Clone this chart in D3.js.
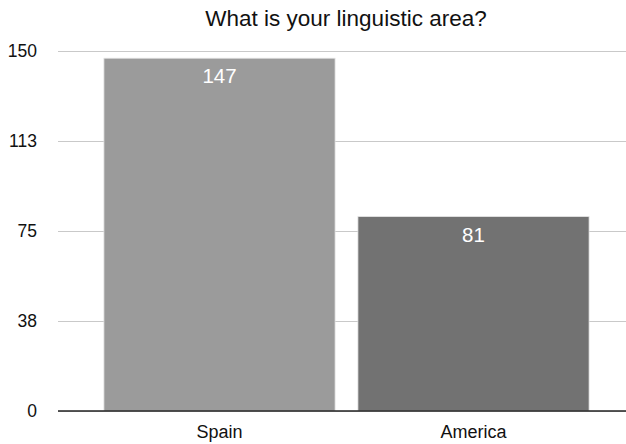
<!DOCTYPE html>
<html>
<head>
<meta charset="utf-8">
<script src="https://cdn.jsdelivr.net/npm/d3@7"></script>
<style>
  html, body { margin: 0; padding: 0; background: #fff; }
  svg { display: block; font-family: "Liberation Sans", Arial, Helvetica, sans-serif; }
</style>
</head>
<body>
<svg id="chart" width="626" height="444"></svg>
<script>
// Survey answers: linguistic area of respondents
const categories = ["Spain", "America"];
const counts = [147, 81];
const barColors = ["#9b9b9b", "#727272"];
const tickValues = [0, 37.5, 75, 112.5, 150];
const tickLabels = ["0", "38", "75", "113", "150"];
const title = "What is your linguistic area?";

const width = 626, height = 444;
const plot = { left: 58, right: 626, top: 51, bottom: 411 };

const svg = d3.select("#chart");

const y = d3.scaleLinear().domain([0, 150]).range([plot.bottom, plot.top]);
const x = d3.scaleBand()
  .domain(categories)
  .range([92.5, 600.5])
  .paddingInner(0.09)
  .paddingOuter(0.045);

// Title
svg.append("text")
  .attr("x", 346)
  .attr("y", 26)
  .attr("text-anchor", "middle")
  .attr("font-size", 22.5)
  .attr("fill", "#111")
  .text(title);

// Horizontal gridlines with labels
const yAxis = d3.axisLeft(y)
  .tickValues(tickValues)
  .tickFormat((d, i) => tickLabels[i])
  .tickSize(-(plot.right - plot.left))
  .tickPadding(21);

const gy = svg.append("g")
  .attr("transform", `translate(${plot.left},0)`)
  .call(yAxis);
gy.select(".domain").remove();
gy.selectAll(".tick line")
  .attr("stroke", "#c9c9c9")
  .attr("stroke-width", 1.2);
gy.selectAll(".tick text")
  .attr("font-size", 17.5)
  .attr("fill", "#111")
  .attr("font-family", "Liberation Sans, Arial, sans-serif");

// Bars
svg.append("g").selectAll("rect")
  .data(categories)
  .join("rect")
  .attr("x", d => x(d))
  .attr("y", (d, i) => y(counts[i]))
  .attr("width", x.bandwidth())
  .attr("height", (d, i) => y(0) - y(counts[i]))
  .attr("fill", (d, i) => barColors[i])
  .attr("stroke", "#e4e4e4")
  .attr("stroke-width", 0.8);

// Value labels inside the bars
svg.append("g").selectAll("text")
  .data(categories)
  .join("text")
  .attr("x", d => x(d) + x.bandwidth() / 2)
  .attr("y", (d, i) => y(counts[i]) + 25)
  .attr("text-anchor", "middle")
  .attr("font-size", 20.5)
  .attr("fill", "#fff")
  .text((d, i) => counts[i]);

// Baseline
svg.append("line")
  .attr("x1", plot.left)
  .attr("x2", plot.right)
  .attr("y1", y(0))
  .attr("y2", y(0))
  .attr("stroke", "#222")
  .attr("stroke-width", 1.5);

// Category labels
const xAxis = d3.axisBottom(x).tickSize(0).tickPadding(14);
const gx = svg.append("g")
  .attr("transform", `translate(0,${y(0)})`)
  .call(xAxis);
gx.select(".domain").remove();
gx.selectAll(".tick text")
  .attr("font-size", 18)
  .attr("fill", "#111")
  .attr("font-family", "Liberation Sans, Arial, sans-serif");
</script>
</body>
</html>
